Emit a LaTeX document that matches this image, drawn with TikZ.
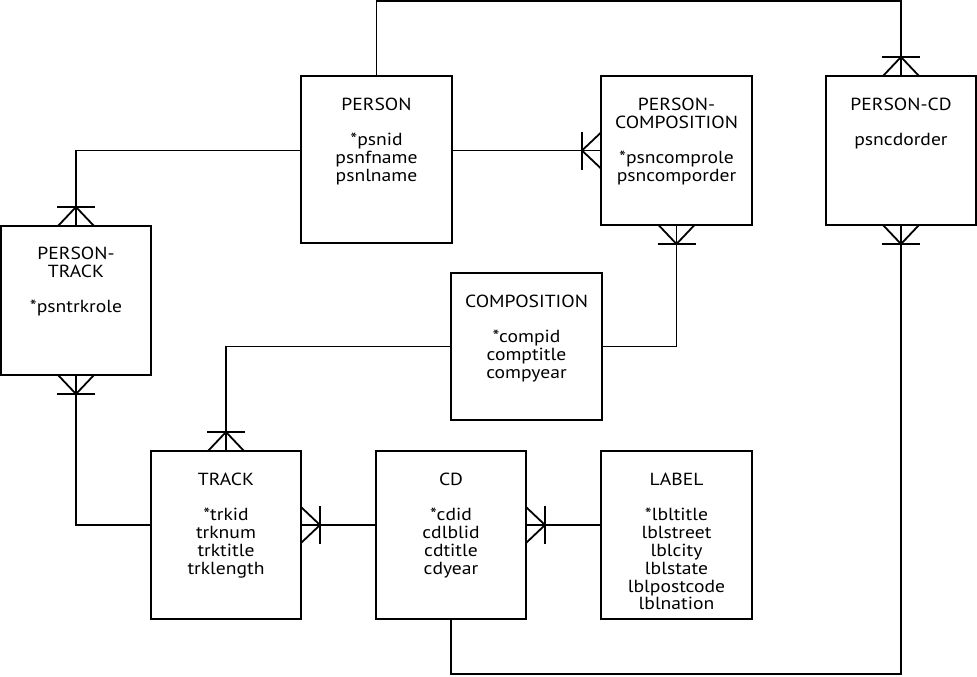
\documentclass[tikz,border=0pt]{standalone}
\usepackage{fontspec}
\setmainfont[FakeStretch=1.12]{PT Sans}
\begin{document}
\begin{tikzpicture}[x=1pt,y=-1pt,
  lw/.style={line width=1.8pt},
  box/.style={draw,lw,rectangle,inner sep=0pt,outer sep=0pt,anchor=north west},
  txt/.style={anchor=north,inner sep=0pt,align=center,font=\fontsize{17.5}{17.8}\selectfont},
  conn/.style={lw},
  crowup/.pic={\draw[lw] (-18,0) -- (0,-19) -- (18,0); \draw[lw] (-19,-19) -- (19,-19);},
  crowdown/.pic={\draw[lw] (-18,0) -- (0,19) -- (18,0); \draw[lw] (-19,19) -- (19,19);},
  crowleft/.pic={\draw[lw] (0,-18) -- (-19,0) -- (0,18); \draw[lw] (-19,-19) -- (-19,19);},
  crowright/.pic={\draw[lw] (0,-18) -- (19,0) -- (0,18); \draw[lw] (19,-19) -- (19,19);}
]
\useasboundingbox (0,0) rectangle (977,677);
% boxes
\node[box,minimum width=151pt,minimum height=167pt] (person) at (301,76) {};
\node[box,minimum width=151pt,minimum height=149pt] (pc) at (601,76) {};
\node[box,minimum width=150pt,minimum height=149pt] (pcd) at (826,76) {};
\node[box,minimum width=150pt,minimum height=149pt] (pt) at (1,226) {};
\node[box,minimum width=151pt,minimum height=147pt] (comp) at (451,273) {};
\node[box,minimum width=150pt,minimum height=168pt] (track) at (151,451) {};
\node[box,minimum width=150pt,minimum height=168pt] (cd) at (376,451) {};
\node[box,minimum width=151pt,minimum height=168pt] (label) at (601,451) {};
% texts
\node[txt] (tperson) at ([yshift=-22pt]person.north) {PERSON\\[17.5pt]*psnid\\psnfname\\psnlname};
\node[txt] (tpc) at ([yshift=-22pt]pc.north) {PERSON-\\COMPOSITION\\[17.5pt]*psncomprole\\psncomporder};
\node[txt] (tpcd) at ([yshift=-22pt]pcd.north) {PERSON-CD\\[17.5pt]psncdorder};
\node[txt] (tpt) at ([yshift=-21pt]pt.north) {PERSON-\\TRACK\\[17.5pt]*psntrkrole};
\node[txt] (tcomp) at ([yshift=-22pt]comp.north) {COMPOSITION\\[17.5pt]*compid\\comptitle\\compyear};
\node[txt] (ttrack) at ([yshift=-22pt]track.north) {TRACK\\[17.5pt]*trkid\\trknum\\trktitle\\trklength};
\node[txt] (tcd) at ([yshift=-22pt]cd.north) {CD\\[17.5pt]*cdid\\cdlblid\\cdtitle\\cdyear};
\node[txt] (tlabel) at ([yshift=-22pt]label.north) {LABEL\\[17.5pt]*lbltitle\\lblstreet\\lblcity\\lblstate\\lblpostcode\\lblnation};
% helper coordinates
\coordinate (top) at (0,1);
\coordinate (bottom) at (0,674);
\coordinate (row) at (0,525);
% connectors
\draw[conn] (person.north) -- (person.north |- top) -| (pcd.north);
\draw[conn] (person.west |- pc.west) -| (pt.north);
\draw[conn] (person.east |- pc.west) -- (pc.west);
\draw[conn] (comp.east) -| (pc.south);
\draw[conn] (comp.west) -| (track.north);
\draw[conn] (pt.south) |- (track.west |- row);
\draw[conn] (cd.west |- row) -- (track.east |- row);
\draw[conn] (label.west |- row) -- (cd.east |- row);
\draw[conn] (cd.south) -- (cd.south |- bottom) -| (pcd.south);
% crow's feet
\pic at (pcd.north) {crowup};
\pic at (pt.north) {crowup};
\pic at (track.north) {crowup};
\pic at (pc.west) {crowleft};
\pic at (pc.south) {crowdown};
\pic at (pt.south) {crowdown};
\pic at (pcd.south) {crowdown};
\pic at (track.east |- row) {crowright};
\pic at (cd.east |- row) {crowright};
\end{tikzpicture}
\end{document}
